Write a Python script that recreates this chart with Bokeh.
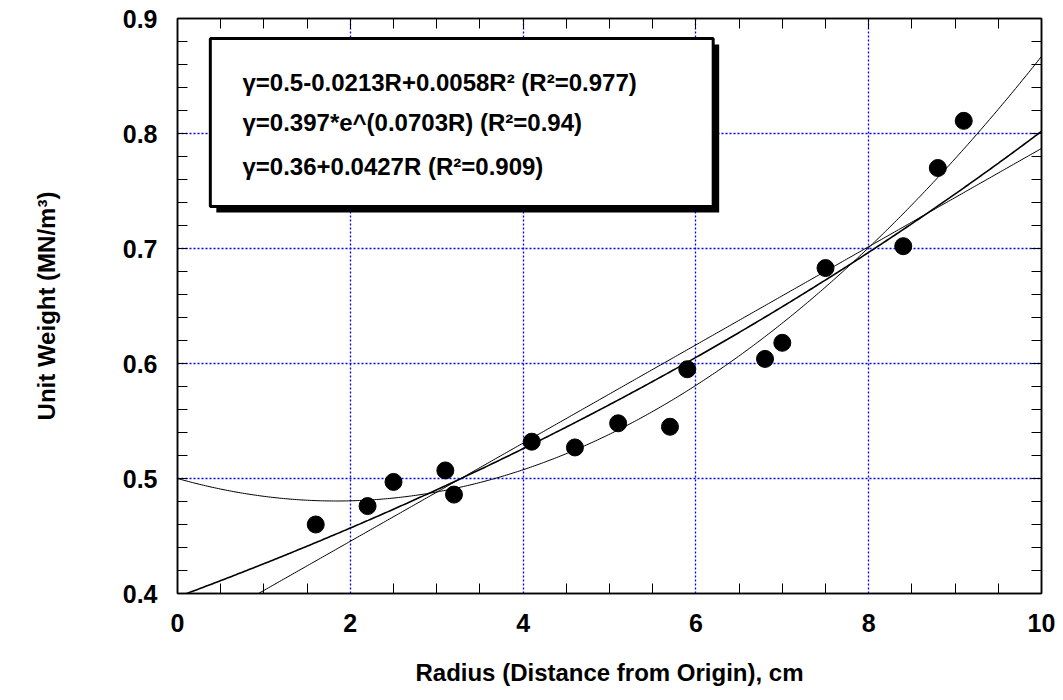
import numpy as np
from bokeh.plotting import figure
from bokeh.models import FixedTicker, LinearAxis, BoxAnnotation, Label, Range1d
from bokeh.embed import file_html
from bokeh.resources import INLINE

# ---- data ----
radius = [1.6, 2.2, 2.5, 3.1, 3.2, 4.1, 4.6, 5.1, 5.7, 5.9, 6.8, 7.0, 7.5, 8.4, 8.8, 9.1]
unit_weight = [0.460, 0.476, 0.497, 0.507, 0.486, 0.532, 0.527, 0.548, 0.545, 0.595,
               0.604, 0.618, 0.683, 0.702, 0.770, 0.811]

# fitted-curve coefficients shown in the chart's box
quad_coef = [0.5, -0.0213, 0.0058]   # a + bR + cR^2
exp_coef = [0.397, 0.0703]           # a * e^(bR)
lin_coef = [0.36, 0.0427]            # a + bR

fit_labels = ["γ=0.5-0.0213R+0.0058R² (R²=0.977)",
              "γ=0.397*e^(0.0703R) (R²=0.94)",
              "γ=0.36+0.0427R  (R²=0.909)"]

x_ticks = [0, 2, 4, 6, 8, 10]
y_ticks = [0.4, 0.5, 0.6, 0.7, 0.8, 0.9]
x_minor = [v for v in np.round(np.arange(0, 10.01, 0.5), 2).tolist() if v not in x_ticks]
y_minor = [v for v in np.round(np.arange(0.4, 0.901, 0.02), 3).tolist()]

FONT = "Liberation Sans"

p = figure(width=1060, height=695, output_backend="svg", toolbar_location=None,
           x_range=Range1d(0, 10), y_range=Range1d(0.4, 0.9),
           min_border_left=177, min_border_right=19, min_border_top=18, min_border_bottom=102)
p.background_fill_color = "white"
p.border_fill_color = "white"
p.outline_line_color = "black"
p.outline_line_width = 1.5

xt = FixedTicker(ticks=x_ticks, minor_ticks=x_minor)
yt = FixedTicker(ticks=y_ticks, minor_ticks=y_minor)

for ax in p.xaxis:
    ax.ticker = xt
for ax in p.yaxis:
    ax.ticker = yt

def style_axis(ax, labels=True, major_in=0, ticks=None):
    ax.major_tick_out = 0
    ax.major_tick_in = major_in
    ax.minor_tick_out = 0
    ax.minor_tick_in = 10
    ax.major_tick_line_color = "black"
    ax.minor_tick_line_color = "black"
    ax.axis_line_color = "black"
    ax.axis_line_width = 1.5
    if labels:
        ax.major_label_text_font = FONT
        ax.major_label_text_font_style = "bold"
        ax.major_label_text_font_size = "25px"
        ax.major_label_text_color = "black"
        ax.axis_label_text_font = FONT
        ax.axis_label_text_font_style = "bold"
        ax.axis_label_text_font_size = "24px"
        ax.axis_label_text_color = "black"
    else:
        ax.major_label_overrides = {t: "" for t in ticks}
        ax.major_label_standoff = 0

xa = p.xaxis[0]
style_axis(xa)
xa.major_label_standoff = 20
xa.axis_label = "Radius (Distance from Origin), cm"
xa.axis_label_standoff = 24

ya = p.yaxis[0]
style_axis(ya)
ya.major_label_standoff = 20
ya.axis_label = "Unit Weight (MN/m³)"
ya.axis_label_standoff = 60

top = LinearAxis(ticker=xt)
style_axis(top, labels=False, major_in=10, ticks=x_ticks)
p.add_layout(top, "above")
right = LinearAxis(ticker=yt)
style_axis(right, labels=False, major_in=10, ticks=y_ticks)
p.add_layout(right, "right")

# grid
p.xgrid.ticker = xt
p.ygrid.ticker = yt
for g in (p.xgrid[0], p.ygrid[0]):
    g.grid_line_color = "#0000ff"
    g.grid_line_dash = "2 2"
    g.grid_line_width = 1.3
    g.grid_line_alpha = 1.0

# fitted curves
r = np.linspace(0, 10, 400)
quad = quad_coef[0] + quad_coef[1] * r + quad_coef[2] * r ** 2
expo = exp_coef[0] * np.exp(exp_coef[1] * r)
lin = lin_coef[0] + lin_coef[1] * r
p.line(r, quad, line_color="black", line_width=1)
p.line(r, expo, line_color="black", line_width=1.6)
p.line(r, lin, line_color="black", line_width=1)

# data points
p.scatter(radius, unit_weight, size=17, fill_color="black", line_color="black")

# equation box with shadow
px_x = 10 / 864.0
px_y = 0.5 / 575.0
bl, br, bt, bb = 0.38, 6.2, 0.8826, 0.7365
p.add_layout(BoxAnnotation(left=bl + 6 * px_x, right=br + 6 * px_x, top=bt - 6 * px_y, bottom=bb - 6 * px_y,
                           fill_color="black", fill_alpha=1, line_color=None))
p.add_layout(BoxAnnotation(left=bl, right=br, top=bt, bottom=bb,
                           fill_color="white", fill_alpha=1, line_color="black",
                           line_alpha=1, line_width=3))
label_y = [0.8443, 0.8096, 0.7713]
for txt, ly in zip(fit_labels, label_y):
    p.add_layout(Label(x=0.752, y=ly, text=txt, text_font=FONT, text_font_style="bold",
                       text_font_size="24px", text_baseline="middle", text_color="black"))

open("out.html", "w").write(file_html(p, INLINE))
